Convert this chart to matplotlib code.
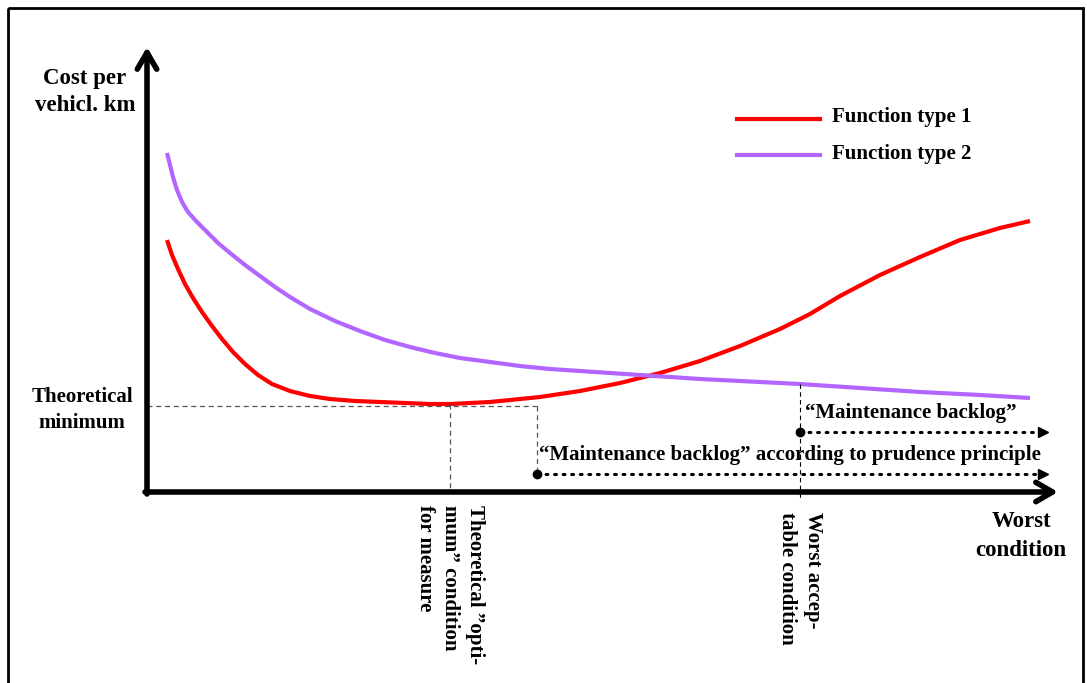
import matplotlib.pyplot as plt

# condition (x, px) and cost (y, px from top)
type1_x = [167, 172, 178, 185, 193, 202, 212, 222, 233, 245, 258, 272, 290, 310,
           330, 355, 380, 405, 430, 450, 470, 490, 510, 540, 580, 620, 660, 700,
           740, 780, 810, 840, 880, 920, 960, 1000, 1030]
type1_y = [240, 255, 269, 284, 298, 312, 326, 339, 352, 364, 375, 384, 391, 396,
           399, 401, 402, 403, 404, 404, 403, 402, 400, 397, 391, 383, 373, 361,
           346, 329, 314, 296, 275, 257, 240, 228, 221]
type2_x = [167, 170, 173, 177, 182, 188, 196, 206, 218, 230, 245, 260, 275, 290,
           310, 335, 360, 385, 410, 435, 460, 490, 520, 550, 580, 640, 700, 760,
           800, 860, 920, 980, 1030]
type2_y = [153, 165, 177, 190, 202, 212, 221, 231, 243, 253, 265, 276, 287, 297,
           309, 321, 331, 340, 347, 353, 358, 362, 366, 369, 371, 375, 379, 382,
           384, 388, 392, 395, 398]

origin = (147, 492)
theo_min_y = 406
optimum_x = 450
prudence_x = 537
worst_ok_x = 800
backlog_end = 1043

plt.rcParams['font.family'] = ['Liberation Serif', 'DejaVu Serif']
plt.rcParams['font.weight'] = 'bold'

fig = plt.figure(figsize=(10.87, 6.83), dpi=100)
ax = fig.add_axes([0, 0, 1, 1])
ax.set_xlim(0, 1087)
ax.set_ylim(683, 0)
ax.axis('off')

# frame
ax.add_patch(plt.Rectangle((8, 8), 1075, 690, fill=False, lw=2, color='black'))

# axes arrows
arrow = dict(arrowstyle='->, head_length=1.2, head_width=0.7', lw=4, color='black',
             shrinkA=0, shrinkB=0)
ax.annotate('', xy=(origin[0], 47), xytext=(origin[0], origin[1] + 2), arrowprops=arrow)
ax.annotate('', xy=(1058, origin[1]), xytext=(origin[0] - 2, origin[1]), arrowprops=arrow)

# curves
ax.plot(type1_x, type1_y, color='#ff0000', lw=3.0, solid_capstyle='butt',
        solid_joinstyle='round')
ax.plot(type2_x, type2_y, color='#b266ff', lw=3.0, solid_capstyle='butt',
        solid_joinstyle='round')

# dashed helper lines
dash = dict(color='#555555', lw=0.9, ls=(0, (4, 3)))
ax.plot([origin[0], prudence_x], [theo_min_y, theo_min_y], **dash)
ax.plot([optimum_x, optimum_x], [theo_min_y - 2, origin[1]], **dash)
ax.plot([prudence_x, prudence_x], [theo_min_y, 474], **dash)
ax.plot([worst_ok_x, worst_ok_x], [384, origin[1] + 8], color='black', lw=0.8, ls=(0, (4, 3)))

# backlog arrows
for x0, y0 in [(worst_ok_x, 432), (prudence_x, 474)]:
    ax.plot([x0, backlog_end - 6], [y0, y0], color='black', lw=2.2, ls=(0, (0.6, 2.2)),
            dash_capstyle='round')
    ax.plot(x0, y0, 'o', color='black', ms=6)
    ax.plot(backlog_end, y0, '>', color='black', ms=7)

# legend
ax.plot([737, 820], [119, 119], color='#ff0000', lw=3.0)
ax.plot([737, 820], [155, 155], color='#b266ff', lw=3.0)
ax.text(832, 117, 'Function type 1', fontsize=15, fontweight='bold', va='center', ha='left')
ax.text(832, 154, 'Function type 2', fontsize=15, fontweight='bold', va='center', ha='left')

# labels
ax.text(85, 92, 'Cost per\nvehicl. km', fontsize=16.5, fontweight='bold', ha='center',
        va='center', linespacing=1.35)
ax.text(82, 410, 'Theoretical\nminimum', fontsize=15, fontweight='bold', ha='center',
        va='center', linespacing=1.45)
ax.text(1021, 536, 'Worst\ncondition', fontsize=16.5, fontweight='bold', ha='center',
        va='center', linespacing=1.45)
ax.text(805, 413, '\u201cMaintenance backlog\u201d', fontsize=15, fontweight='bold',
        ha='left', va='center')
ax.text(539, 455, '\u201cMaintenance backlog\u201d according to prudence principle',
        fontsize=15, fontweight='bold', ha='left', va='center')
ax.text(optimum_x, 505, 'Theoretical \u201dopti-\nmum\u201d condition\nfor measure',
        fontsize=15, fontweight='bold', rotation=-90, ha='center', va='top',
        multialignment='left', linespacing=1.35)
ax.text(worst_ok_x, 512, 'Worst accep-\ntable condition', fontsize=15, fontweight='bold',
        rotation=-90, ha='center', va='top', multialignment='left', linespacing=1.35)

fig.savefig('out.png', dpi=100)
